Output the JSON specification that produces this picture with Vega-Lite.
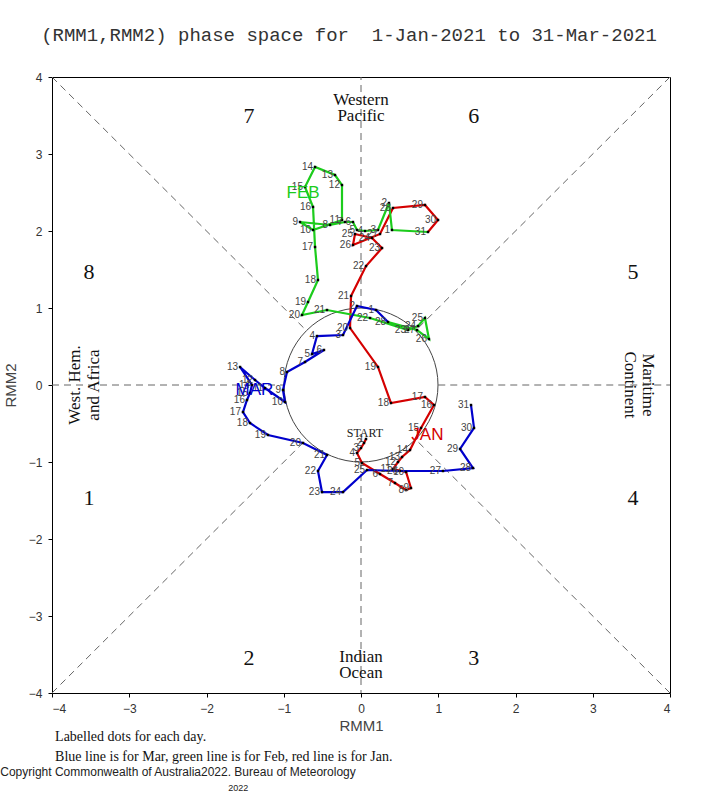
{
  "$schema": "https://vega.github.io/schema/vega-lite/v6.json",
  "width": 618,
  "height": 616,
  "autosize": "none",
  "padding": {"left": 52, "top": 77, "right": 54, "bottom": 107},
  "background": "white",
  "title": {"text": "(RMM1,RMM2) phase space for\u00a0 1-Jan-2021 to 31-Mar-2021", "font": "Liberation Mono", "fontSize": 19, "fontWeight": "normal", "color": "#333", "anchor": "middle", "offset": 26, "dx": -12},
  "config": {
    "view": {"stroke": "black", "strokeWidth": 1},
    "axis": {"grid": false, "domain": false, "ticks": true, "tickColor": "black", "tickSize": 4, "labelFont": "Liberation Sans", "labelFontSize": 12, "labelColor": "#333", "titleFont": "Liberation Sans", "titleFontSize": 15, "titleFontWeight": "normal", "titleColor": "#444"}
  },
  "datasets": {
    "path": [
      {"m": "Jan", "i": 1, "d": "1", "x": 0.065, "y": -0.701},
      {"m": "Jan", "i": 2, "d": "2", "x": 0.039, "y": -0.753},
      {"m": "Jan", "i": 3, "d": "3", "x": 0.0, "y": -0.818},
      {"m": "Jan", "i": 4, "d": "4", "x": -0.052, "y": -0.883},
      {"m": "Jan", "i": 5, "d": "5", "x": 0.013, "y": -1.013},
      {"m": "Jan", "i": 6, "d": "6", "x": 0.246, "y": -1.156},
      {"m": "Jan", "i": 7, "d": "7", "x": 0.44, "y": -1.273},
      {"m": "Jan", "i": 8, "d": "8", "x": 0.583, "y": -1.364},
      {"m": "Jan", "i": 9, "d": "9", "x": 0.647, "y": -1.338},
      {"m": "Jan", "i": 10, "d": "10", "x": 0.583, "y": -1.13},
      {"m": "Jan", "i": 11, "d": "11", "x": 0.414, "y": -1.091},
      {"m": "Jan", "i": 12, "d": "12", "x": 0.479, "y": -1.0},
      {"m": "Jan", "i": 13, "d": "13", "x": 0.531, "y": -0.935},
      {"m": "Jan", "i": 14, "d": "14", "x": 0.634, "y": -0.844},
      {"m": "Jan", "i": 15, "d": "15", "x": 0.777, "y": -0.558},
      {"m": "Jan", "i": 16, "d": "16", "x": 0.945, "y": -0.26},
      {"m": "Jan", "i": 17, "d": "17", "x": 0.828, "y": -0.156},
      {"m": "Jan", "i": 18, "d": "18", "x": 0.388, "y": -0.234},
      {"m": "Jan", "i": 19, "d": "19", "x": 0.22, "y": 0.234},
      {"m": "Jan", "i": 20, "d": "20", "x": -0.142, "y": 0.74},
      {"m": "Jan", "i": 21, "d": "21", "x": -0.129, "y": 1.156},
      {"m": "Jan", "i": 22, "d": "22", "x": 0.065, "y": 1.545},
      {"m": "Jan", "i": 23, "d": "23", "x": 0.272, "y": 1.779},
      {"m": "Jan", "i": 24, "d": "24", "x": 0.142, "y": 1.909},
      {"m": "Jan", "i": 25, "d": "25", "x": -0.078, "y": 1.961},
      {"m": "Jan", "i": 26, "d": "26", "x": -0.104, "y": 1.818},
      {"m": "Jan", "i": 27, "d": "27", "x": 0.246, "y": 1.961},
      {"m": "Jan", "i": 28, "d": "28", "x": 0.414, "y": 2.299},
      {"m": "Jan", "i": 29, "d": "29", "x": 0.828, "y": 2.338},
      {"m": "Jan", "i": 30, "d": "30", "x": 0.997, "y": 2.143},
      {"m": "Jan", "i": 31, "d": "31", "x": 0.867, "y": 1.987},
      {"m": "Feb", "i": 0, "d": "", "x": 0.867, "y": 1.987},
      {"m": "Feb", "i": 1, "d": "1", "x": 0.401, "y": 2.013},
      {"m": "Feb", "i": 2, "d": "2", "x": 0.362, "y": 2.364},
      {"m": "Feb", "i": 3, "d": "3", "x": 0.22, "y": 2.013},
      {"m": "Feb", "i": 4, "d": "4", "x": 0.052, "y": 2.0},
      {"m": "Feb", "i": 5, "d": "5", "x": -0.052, "y": 2.013},
      {"m": "Feb", "i": 6, "d": "6", "x": -0.104, "y": 2.117},
      {"m": "Feb", "i": 7, "d": "7", "x": -0.207, "y": 2.117},
      {"m": "Feb", "i": 8, "d": "8", "x": -0.401, "y": 2.078},
      {"m": "Feb", "i": 9, "d": "9", "x": -0.79, "y": 2.117},
      {"m": "Feb", "i": 10, "d": "10", "x": -0.621, "y": 2.013},
      {"m": "Feb", "i": 11, "d": "11", "x": -0.246, "y": 2.143},
      {"m": "Feb", "i": 12, "d": "12", "x": -0.246, "y": 2.597},
      {"m": "Feb", "i": 13, "d": "13", "x": -0.337, "y": 2.727},
      {"m": "Feb", "i": 14, "d": "14", "x": -0.595, "y": 2.831},
      {"m": "Feb", "i": 15, "d": "15", "x": -0.725, "y": 2.571},
      {"m": "Feb", "i": 16, "d": "16", "x": -0.621, "y": 2.312},
      {"m": "Feb", "i": 17, "d": "17", "x": -0.595, "y": 1.792},
      {"m": "Feb", "i": 18, "d": "18", "x": -0.557, "y": 1.364},
      {"m": "Feb", "i": 19, "d": "19", "x": -0.686, "y": 1.078},
      {"m": "Feb", "i": 20, "d": "20", "x": -0.764, "y": 0.909},
      {"m": "Feb", "i": 21, "d": "21", "x": -0.44, "y": 0.974},
      {"m": "Feb", "i": 22, "d": "22", "x": 0.117, "y": 0.87},
      {"m": "Feb", "i": 23, "d": "23", "x": 0.608, "y": 0.714},
      {"m": "Feb", "i": 24, "d": "24", "x": 0.738, "y": 0.766},
      {"m": "Feb", "i": 25, "d": "25", "x": 0.828, "y": 0.87},
      {"m": "Feb", "i": 26, "d": "26", "x": 0.88, "y": 0.597},
      {"m": "Feb", "i": 27, "d": "27", "x": 0.725, "y": 0.714},
      {"m": "Feb", "i": 28, "d": "28", "x": 0.35, "y": 0.818},
      {"m": "Mar", "i": 0, "d": "", "x": 0.35, "y": 0.818},
      {"m": "Mar", "i": 1, "d": "1", "x": 0.194, "y": 0.974},
      {"m": "Mar", "i": 2, "d": "2", "x": -0.052, "y": 1.026},
      {"m": "Mar", "i": 3, "d": "3", "x": -0.233, "y": 0.649},
      {"m": "Mar", "i": 4, "d": "4", "x": -0.57, "y": 0.636},
      {"m": "Mar", "i": 5, "d": "5", "x": -0.634, "y": 0.403},
      {"m": "Mar", "i": 6, "d": "6", "x": -0.479, "y": 0.455},
      {"m": "Mar", "i": 7, "d": "7", "x": -0.725, "y": 0.299},
      {"m": "Mar", "i": 8, "d": "8", "x": -0.958, "y": 0.169},
      {"m": "Mar", "i": 9, "d": "9", "x": -1.01, "y": -0.065},
      {"m": "Mar", "i": 10, "d": "10", "x": -0.984, "y": -0.221},
      {"m": "Mar", "i": 11, "d": "11", "x": -1.243, "y": -0.039},
      {"m": "Mar", "i": 12, "d": "12", "x": -1.372, "y": 0.065},
      {"m": "Mar", "i": 13, "d": "13", "x": -1.566, "y": 0.234},
      {"m": "Mar", "i": 14, "d": "14", "x": -1.411, "y": 0.0},
      {"m": "Mar", "i": 15, "d": "15", "x": -1.437, "y": -0.104},
      {"m": "Mar", "i": 16, "d": "16", "x": -1.476, "y": -0.195},
      {"m": "Mar", "i": 17, "d": "17", "x": -1.528, "y": -0.351},
      {"m": "Mar", "i": 18, "d": "18", "x": -1.437, "y": -0.494},
      {"m": "Mar", "i": 19, "d": "19", "x": -1.204, "y": -0.649},
      {"m": "Mar", "i": 20, "d": "20", "x": -0.751, "y": -0.753},
      {"m": "Mar", "i": 21, "d": "21", "x": -0.44, "y": -0.909},
      {"m": "Mar", "i": 22, "d": "22", "x": -0.557, "y": -1.117},
      {"m": "Mar", "i": 23, "d": "23", "x": -0.505, "y": -1.39},
      {"m": "Mar", "i": 24, "d": "24", "x": -0.233, "y": -1.39},
      {"m": "Mar", "i": 25, "d": "25", "x": 0.078, "y": -1.104},
      {"m": "Mar", "i": 26, "d": "26", "x": 0.505, "y": -1.117},
      {"m": "Mar", "i": 27, "d": "27", "x": 1.061, "y": -1.117},
      {"m": "Mar", "i": 28, "d": "28", "x": 1.45, "y": -1.078},
      {"m": "Mar", "i": 29, "d": "29", "x": 1.282, "y": -0.831},
      {"m": "Mar", "i": 30, "d": "30", "x": 1.463, "y": -0.558},
      {"m": "Mar", "i": 31, "d": "31", "x": 1.424, "y": -0.26}
    ],
    "guides": [
      {"x": -4, "y": 0, "x2": -1, "y2": 0},
      {"x": 1, "y": 0, "x2": 4, "y2": 0},
      {"x": 0, "y": 1, "x2": 0, "y2": 4},
      {"x": 0, "y": -1, "x2": 0, "y2": -4},
      {"x": -4, "y": 4, "x2": -0.707, "y2": 0.707},
      {"x": 4, "y": 4, "x2": 0.707, "y2": 0.707},
      {"x": -4, "y": -4, "x2": -0.707, "y2": -0.707},
      {"x": 4, "y": -4, "x2": 0.707, "y2": -0.707}
    ]
  },
  "encoding": {
    "x": {"field": "x", "type": "quantitative", "scale": {"domain": [-4, 4], "nice": false, "zero": false}, "axis": {"title": "RMM1", "values": [-4, -3, -2, -1, 0, 1, 2, 3, 4], "titlePadding": 4, "labelPadding": 6}},
    "y": {"field": "y", "type": "quantitative", "scale": {"domain": [-4, 4], "nice": false, "zero": false}, "axis": {"title": "RMM2", "values": [-4, -3, -2, -1, 0, 1, 2, 3, 4], "titlePadding": 10, "labelPadding": 6}}
  },
  "layer": [
    {
      "data": {"name": "guides"},
      "mark": {"type": "rule", "color": "#666", "strokeWidth": 1, "strokeDash": [7, 5]},
      "encoding": {"x2": {"field": "x2"}, "y2": {"field": "y2"}}
    },
    {
      "data": {"values": [{"x": 0, "y": 0}]},
      "mark": {"type": "point", "shape": "circle", "size": 23716, "filled": false, "stroke": "#444", "strokeWidth": 1, "opacity": 1}
    },
    {
      "data": {"name": "path"},
      "mark": {"type": "line", "strokeWidth": 2.2, "interpolate": "linear"},
      "encoding": {
        "color": {"field": "m", "type": "nominal", "scale": {"domain": ["Jan", "Feb", "Mar"], "range": ["#d40000", "#1ccc1c", "#0000cc"]}, "legend": null},
        "order": {"field": "i", "type": "quantitative"}
      }
    },
    {
      "data": {"name": "path"},
      "transform": [{"filter": "datum.i > 0"}],
      "mark": {"type": "point", "shape": "square", "filled": true, "size": 6, "color": "black", "opacity": 1}
    },
    {
      "data": {"name": "path"},
      "transform": [{"filter": "datum.i > 0"}],
      "mark": {"type": "text", "align": "right", "baseline": "middle", "dx": -2, "font": "Liberation Sans", "fontSize": 10, "color": "#444"},
      "encoding": {"text": {"field": "d"}}
    },
    {
      "data": {"values": [
        {"t": "JAN", "x": 0.86, "y": -0.65, "c": "Jan"},
        {"t": "FEB", "x": -0.75, "y": 2.49, "c": "Feb"},
        {"t": "MAR", "x": -1.38, "y": -0.07, "c": "Mar"}
      ]},
      "mark": {"type": "text", "align": "center", "baseline": "middle", "font": "Liberation Sans", "fontSize": 17},
      "encoding": {
        "text": {"field": "t"},
        "color": {"field": "c", "type": "nominal", "scale": {"domain": ["Jan", "Feb", "Mar"], "range": ["#d40000", "#1ccc1c", "#0000cc"]}, "legend": null}
      }
    },
    {
      "data": {"values": [{"t": "START", "x": 0.05, "y": -0.62}]},
      "mark": {"type": "text", "align": "center", "baseline": "middle", "font": "Liberation Serif", "fontSize": 12, "color": "#222"},
      "encoding": {"text": {"field": "t"}}
    },
    {
      "data": {"values": [
        {"t": "1", "x": -3.52, "y": -1.47},
        {"t": "2", "x": -1.45, "y": -3.55},
        {"t": "3", "x": 1.46, "y": -3.55},
        {"t": "4", "x": 3.52, "y": -1.47},
        {"t": "5", "x": 3.52, "y": 1.47},
        {"t": "6", "x": 1.46, "y": 3.5},
        {"t": "7", "x": -1.45, "y": 3.5},
        {"t": "8", "x": -3.52, "y": 1.47}
      ]},
      "mark": {"type": "text", "align": "center", "baseline": "middle", "font": "Liberation Serif", "fontSize": 22, "color": "#111"},
      "encoding": {"text": {"field": "t"}}
    },
    {
      "data": {"values": [
        {"t": "Western", "x": 0, "y": 3.7},
        {"t": "Pacific", "x": 0, "y": 3.49},
        {"t": "Indian", "x": 0, "y": -3.53},
        {"t": "Ocean", "x": 0, "y": -3.74}
      ]},
      "mark": {"type": "text", "align": "center", "baseline": "middle", "font": "Liberation Serif", "fontSize": 17, "color": "#111"},
      "encoding": {"text": {"field": "t"}}
    },
    {
      "data": {"values": [
        {"t": "West. Hem.", "x": -3.7, "y": 0},
        {"t": "and Africa", "x": -3.45, "y": 0}
      ]},
      "mark": {"type": "text", "align": "center", "baseline": "middle", "angle": 270, "font": "Liberation Serif", "fontSize": 17, "color": "#111"},
      "encoding": {"text": {"field": "t"}}
    },
    {
      "data": {"values": [
        {"t": "Maritime", "x": 3.72, "y": 0},
        {"t": "Continent", "x": 3.48, "y": 0}
      ]},
      "mark": {"type": "text", "align": "center", "baseline": "middle", "angle": 90, "font": "Liberation Serif", "fontSize": 17, "color": "#111"},
      "encoding": {"text": {"field": "t"}}
    },
    {
      "data": {"values": [
        {"t": "Labelled dots for each day.", "x": -3.96, "y": -4.57},
        {"t": "Blue line is for Mar, green line is for Feb, red line is for Jan.", "x": -3.96, "y": -4.83}
      ]},
      "mark": {"type": "text", "align": "left", "baseline": "middle", "font": "Liberation Serif", "fontSize": 14, "color": "#111"},
      "encoding": {"text": {"field": "t"}}
    },
    {
      "data": {"values": [
        {"t": "Copyright Commonwealth of Australia2022. Bureau of Meteorology", "x": -4.67, "y": -5.03}
      ]},
      "mark": {"type": "text", "align": "left", "baseline": "middle", "font": "Liberation Sans", "fontSize": 12, "color": "#222"},
      "encoding": {"text": {"field": "t"}}
    },
    {
      "data": {"values": [{"t": "2022", "x": -1.59, "y": -5.24}]},
      "mark": {"type": "text", "align": "center", "baseline": "middle", "font": "Liberation Sans", "fontSize": 9, "color": "#222"},
      "encoding": {"text": {"field": "t"}}
    }
  ]
}
